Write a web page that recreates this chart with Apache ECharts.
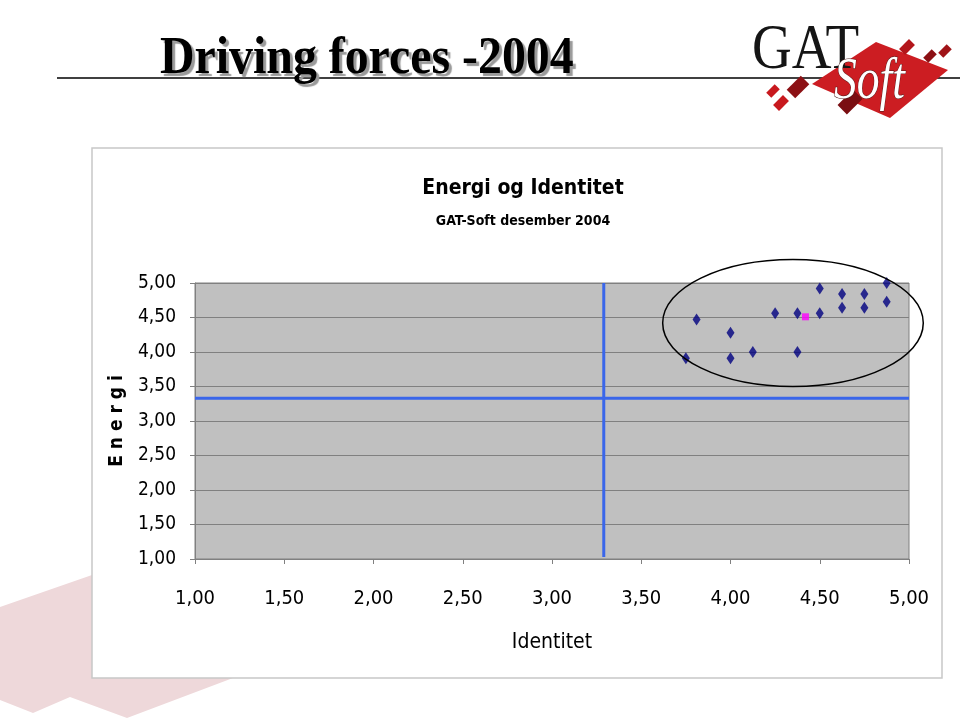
<!DOCTYPE html>
<html>
<head>
<meta charset="utf-8">
<script src="https://cdn.jsdelivr.net/npm/echarts@6/dist/echarts.min.js"></script>
<style>
html,body{margin:0;padding:0;background:#fff;}
#charts{width:960px;height:721px;}
</style>
</head>
<body>
<div id="charts"></div>
<script>
// Identitet (x), Energi (y)
var identitet=[4.875,4.50,4.625,4.75,4.875,4.625,4.75,4.25,4.375,4.50,3.81,4.00,4.125,4.375,3.75,4.00];
var energi   =[5.00,4.92,4.84,4.84,4.73,4.64,4.64,4.56,4.56,4.56,4.47,4.28,4.00,4.00,3.91,3.91];
var snittPunkt=[4.42,4.51]; //rosa punkt
var snittX=3.29; //blå loddrett linje
var snittY=3.33; //blå vannrett linje
var ellipse=[4.35,4.42,0.73,0.92]; //sentrum x,y og radier
var ticks=['1,00','1,50','2,00','2,50','3,00','3,50','4,00','4,50','5,00'];

var NARROW="'Liberation Sans Narrow','Arial Narrow','DejaVu Sans Condensed',sans-serif";
var SERIF='"Liberation Serif","DejaVu Serif",serif';
var pts=[];
for(var i=0;i<identitet.length;i++) pts.push([identitet[i],energi[i]]);

function fmt(v){return ticks[Math.round((v-1)*2)];}
function rute(x,y,s,farge){ //lite rødt kvadrat i logoen
    return {type:'rect',rotation:Math.PI/4,x:x,y:y,scaleY:0.6,shape:{x:-s/2,y:-s/2,width:s,height:s},style:{fill:farge}};
}

var chart=echarts.init(document.getElementById('charts'));
chart.setOption({
    animation:false,
    backgroundColor:'#fff',
    title:[
        {text:'Energi og Identitet',left:518,top:173,textAlign:'center',
         textStyle:{fontFamily:NARROW,fontSize:21,fontWeight:'bold',color:'#000'}},
        {text:'GAT-Soft desember 2004',left:518,top:209,textAlign:'center',
         textStyle:{fontFamily:NARROW,fontSize:14,fontWeight:'bold',color:'#000'}}
    ],
    graphic:[
        //vannmerke nede til venstre
        {type:'polygon',z:-2,shape:{points:[[0,607],[92,575],[92,678],[233,678],[127,718],[70,697],[33,713],[0,700]]},
         style:{fill:'#eed8da'}},
        //diagramramme
        {type:'rect',z:-1,shape:{x:92,y:148,width:850,height:530},style:{fill:'#fff',stroke:'#c8c8c8',lineWidth:1.5}},
        //overskrift
        {type:'line',shape:{x1:57,y1:78,x2:960,y2:78},style:{stroke:'#000',lineWidth:1.5}},
        {type:'text',x:160,y:60,scaleX:0.92,style:{text:'Driving forces -2004',x:0,y:0,verticalAlign:'middle',fill:'#000',
         font:'bold 52px '+SERIF,
         textShadowColor:'#9a9a9a',textShadowOffsetX:3,textShadowOffsetY:3,textShadowBlur:1}},
        //logo
        {type:'polygon',shape:{points:[[812,84],[876,42],[948,70],[890,118]]},style:{fill:'#cc1d22'}},
        rute(773,91,12,'#c8191e'),
        rute(798,87,20,'#8c1014'),
        rute(781,103,14,'#c8191e'),
        rute(850,102,22,'#7a0e12'),
        rute(907,47,14,'#b3161b'),
        rute(930,56,12,'#8c1014'),
        rute(945,51,12,'#a01418'),
        {type:'text',x:752,y:51,scaleX:0.86,style:{text:'GAT',x:0,y:0,verticalAlign:'middle',fill:'#151515',font:'64px '+SERIF}},
        {type:'text',x:834,y:82,scaleX:0.76,style:{text:'Soft',x:0,y:0,verticalAlign:'middle',fill:'#fff',stroke:'#4a1a1a',lineWidth:1,
         font:'italic 60px '+SERIF}}
    ],
    grid:{left:195,right:51,top:283,bottom:162,show:true,backgroundColor:'#c0c0c0',borderColor:'#808080',borderWidth:1},
    xAxis:{type:'value',min:1,max:5,interval:0.5,
        name:'Identitet',nameLocation:'middle',nameGap:73,
        nameTextStyle:{fontFamily:NARROW,fontSize:21,color:'#000'},
        axisLine:{lineStyle:{color:'#808080'}},
        axisTick:{show:true,length:5,lineStyle:{color:'#808080'}},
        splitLine:{show:false},
        axisLabel:{formatter:fmt,margin:30,fontFamily:NARROW,fontSize:20,color:'#000'}},
    yAxis:{type:'value',min:1,max:5,interval:0.5,
        name:'E n e r g i',nameLocation:'middle',nameGap:68,nameRotate:90,
        nameTextStyle:{fontFamily:NARROW,fontSize:19,fontWeight:'bold',color:'#000'},
        axisLine:{show:true,lineStyle:{color:'#808080'}},
        axisTick:{show:true,length:5,lineStyle:{color:'#808080'}},
        splitLine:{lineStyle:{color:'#808080',width:1}},
        axisLabel:{formatter:fmt,margin:19,fontFamily:NARROW,fontSize:19,color:'#000'}},
    series:[
        {type:'line',data:[[snittX,1.03],[snittX,5]],symbol:'none',lineStyle:{color:'#3a66ea',width:3},z:3},
        {type:'line',data:[[1,snittY],[5,snittY]],symbol:'none',lineStyle:{color:'#3a66ea',width:3},z:3},
        {type:'scatter',data:pts,symbol:'diamond',symbolSize:[8,12],itemStyle:{color:'#000080'},z:5},
        {type:'scatter',data:[snittPunkt],symbol:'rect',symbolSize:7,itemStyle:{color:'#ff00ff'},z:5},
        {type:'custom',data:[ellipse],clip:false,z:6,
         renderItem:function(params,api){
            var c=api.coord([api.value(0),api.value(1)]);
            var s=api.size([api.value(2),api.value(3)]);
            return {type:'ellipse',shape:{cx:c[0],cy:c[1],rx:s[0],ry:s[1]},
                style:{fill:'none',stroke:'#000',lineWidth:1.5}};
         }}
    ]
});
</script>
</body>
</html>
